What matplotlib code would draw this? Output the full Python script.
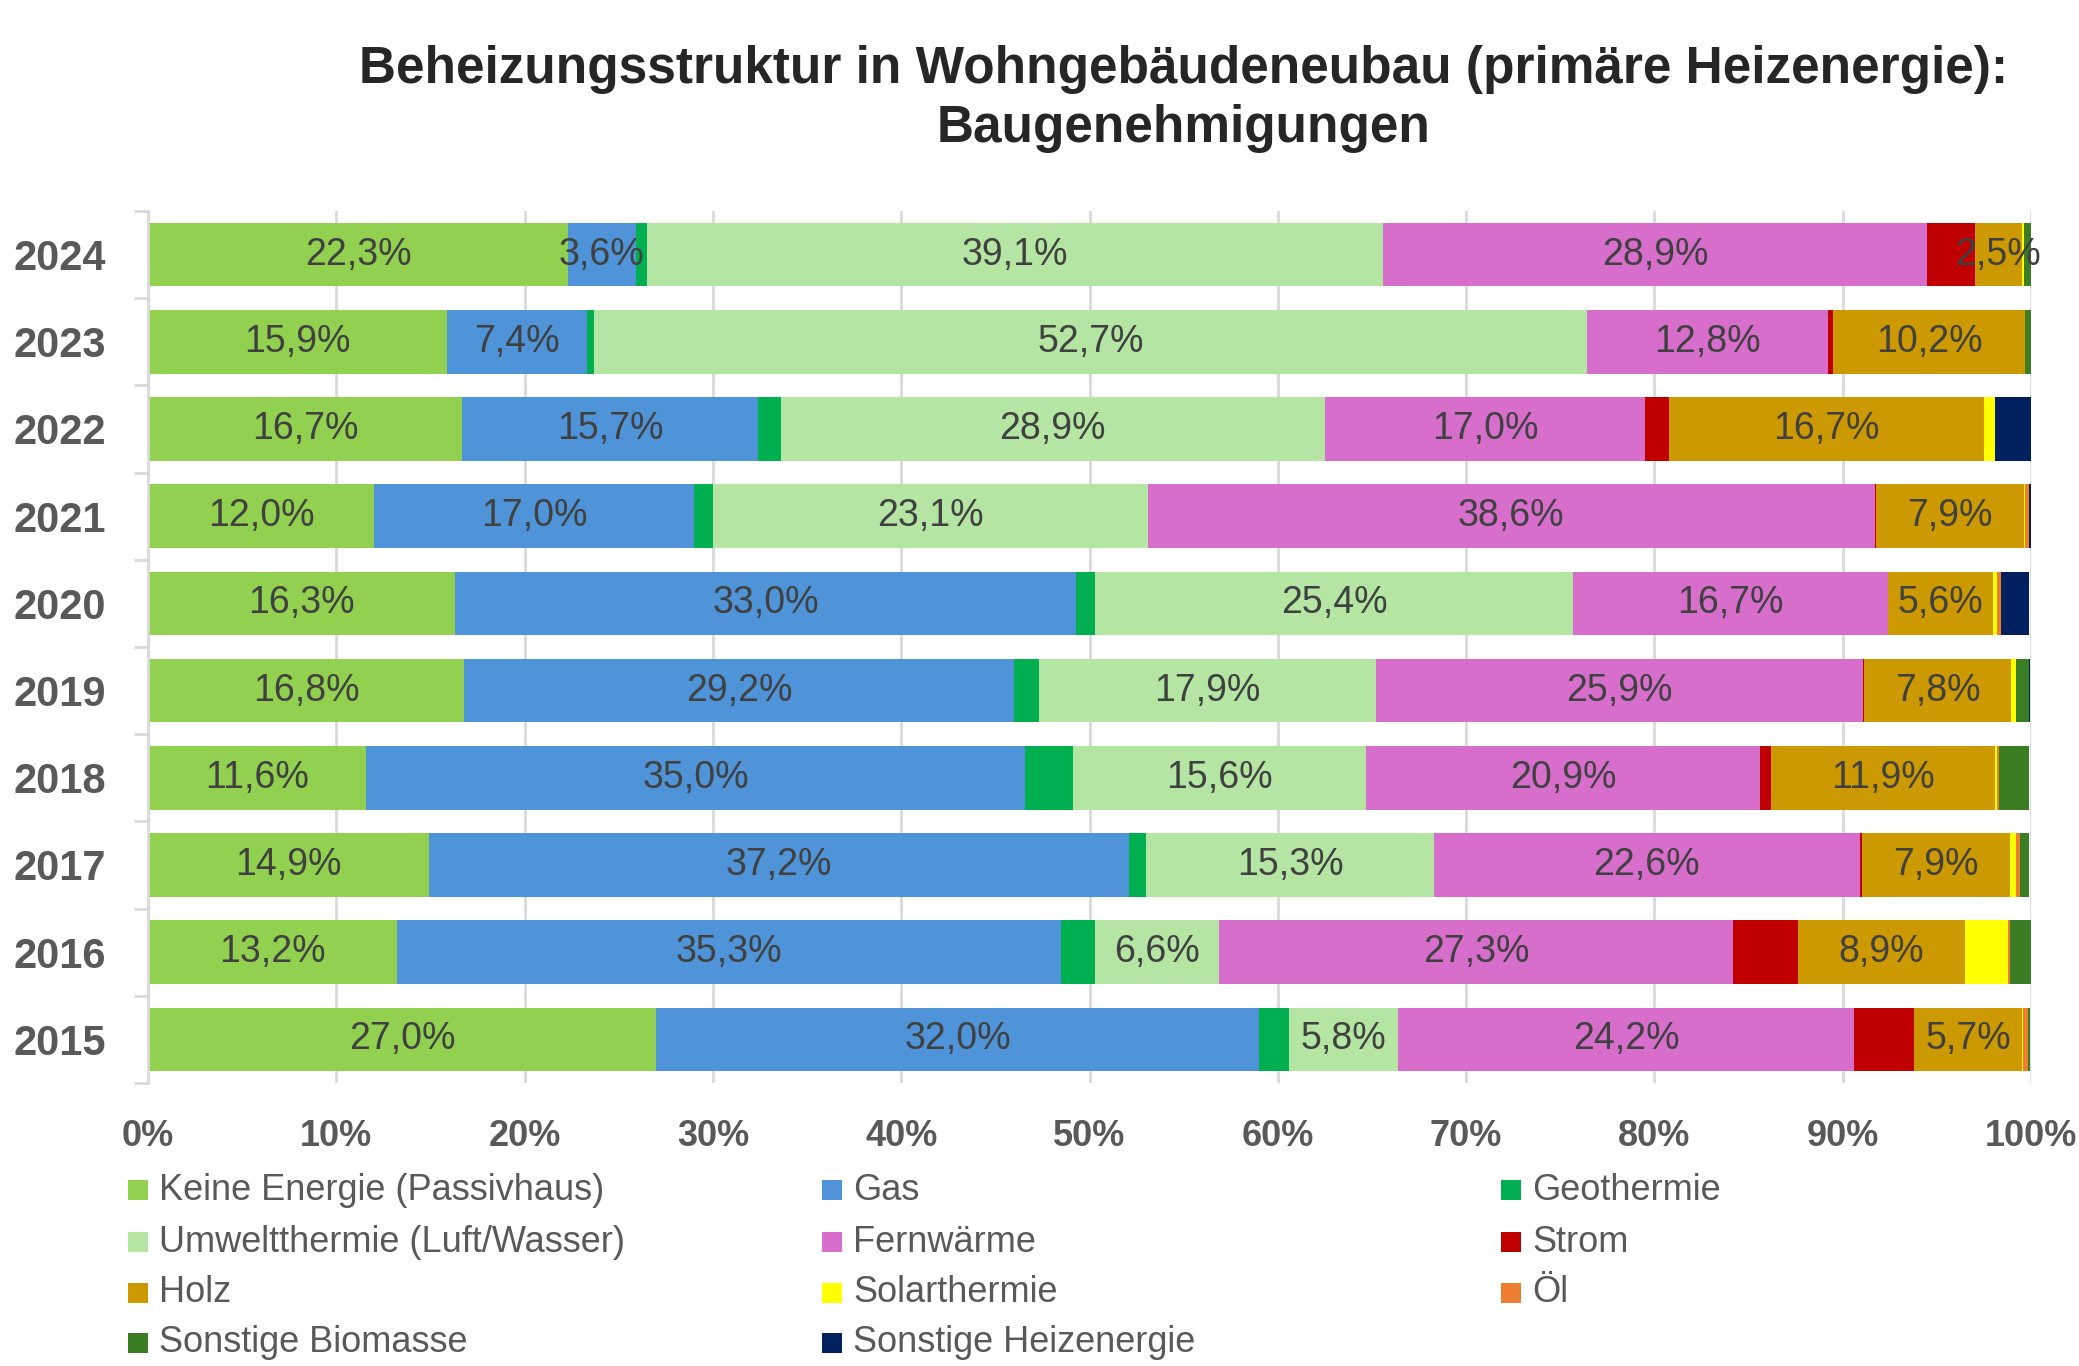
import matplotlib
matplotlib.use("Agg")
import matplotlib.pyplot as plt
from matplotlib.patches import Rectangle
import numpy as np

years = ["2015", "2016", "2017", "2018", "2019", "2020", "2021", "2022", "2023", "2024"]
series_names = ["Keine Energie (Passivhaus)", "Gas", "Geothermie",
                "Umweltthermie (Luft/Wasser)", "Fernwärme", "Strom", "Holz",
                "Solarthermie", "Öl", "Sonstige Biomasse", "Sonstige Heizenergie"]
colors = ["#92D050", "#4F94D8", "#00B050", "#B4E5A2", "#D86ECC", "#C00000",
          "#CC9900", "#FFFF00", "#ED7D31", "#3B7D23", "#002060"]

keine    = [27.0, 13.2, 14.9, 11.6, 16.8, 16.3, 12.0, 16.7, 15.9, 22.3]
gas      = [32.0, 35.3, 37.2, 35.0, 29.2, 33.0, 17.0, 15.7, 7.4, 3.6]
geo      = [1.6, 1.8, 0.9, 2.5, 1.3, 1.0, 1.0, 1.2, 0.4, 0.6]
umwelt   = [5.8, 6.6, 15.3, 15.6, 17.9, 25.4, 23.1, 28.9, 52.7, 39.1]
fern     = [24.2, 27.3, 22.6, 20.9, 25.9, 16.7, 38.6, 17.0, 12.8, 28.9]
strom    = [3.2, 3.4, 0.1, 0.6, 0.05, 0.0, 0.05, 1.3, 0.3, 2.5]
holz     = [5.7, 8.9, 7.9, 11.9, 7.8, 5.6, 7.9, 16.7, 10.2, 2.5]
solar    = [0.05, 2.3, 0.3, 0.1, 0.25, 0.2, 0.05, 0.6, 0.0, 0.15]
oel      = [0.3, 0.1, 0.2, 0.1, 0.0, 0.2, 0.2, 0.0, 0.0, 0.0]
biomasse = [0.1, 1.1, 0.5, 1.6, 0.7, 0.0, 0.0, 0.0, 0.3, 0.35]
sonstige = [0.0, 0.0, 0.0, 0.0, 0.05, 1.5, 0.1, 1.9, 0.0, 0.0]

values = [keine, gas, geo, umwelt, fern, strom, holz, solar, oel, biomasse, sonstige]
labelled = {0, 1, 3, 4, 6}

xticks = [0, 10, 20, 30, 40, 50, 60, 70, 80, 90, 100]
xticklabels = [f"{t}%" for t in xticks]

title = "Beheizungsstruktur in Wohngebäudeneubau (primäre Heizenergie):\nBaugenehmigungen"

FONT = "Liberation Sans"
plt.rcParams["font.family"] = [FONT, "DejaVu Sans"]

W, H = 2079, 1366
fig = plt.figure(figsize=(W / 100, H / 100), dpi=100)
ax = fig.add_axes([148 / W, 1 - 1083 / H, (2031 - 148) / W, (1083 - 211) / H])

y = np.arange(len(years))
left = np.zeros(len(years))
for i, (name, vals, col) in enumerate(zip(series_names, values, colors)):
    vals = np.array(vals, dtype=float)
    bars = ax.barh(y, vals, left=left, height=0.73, color=col, label=name, zorder=3)
    if i in labelled:
        lbls = [f"{v:.1f}%".replace(".", ",") for v in vals]
        ax.bar_label(bars, labels=lbls, label_type="center", fontsize=27,
                     color="#404040", zorder=4)
    left += vals

ax.set_xlim(0, 100)
ax.set_ylim(-0.5, len(years) - 0.5)
ax.set_xticks(xticks)
ax.set_xticklabels(xticklabels, fontsize=26, fontweight="bold", color="#595959")
ax.set_yticks(y)
ax.set_yticklabels(years, fontsize=30, fontweight="bold", color="#595959")
ax.set_yticks(np.arange(-0.5, len(years), 1.0), minor=True)
ax.tick_params(axis="y", which="major", length=0, pad=30)
ax.tick_params(axis="y", which="minor", length=10, width=2, color="#D9D9D9")
ax.tick_params(axis="x", which="major", length=0, pad=26)

ax.grid(axis="x", color="#D9D9D9", linewidth=2, zorder=0)
for s in ["top", "right", "bottom"]:
    ax.spines[s].set_visible(False)
ax.spines["left"].set_color("#D9D9D9")
ax.spines["left"].set_linewidth(2)
ax.spines["left"].set_zorder(5)

fig.text(881 / 1548, 1 - 99 / H, title, ha="center", va="center",
         fontsize=37, fontweight="bold", color="#262626", linespacing=1.25)

# legend (row-major, 3 columns)
col_x = [128, 822, 1501]
row_y = [1190, 1242, 1293, 1343]
for k, (name, col) in enumerate(zip(series_names, colors)):
    r, c = divmod(k, 3)
    x0 = col_x[c]
    yc = row_y[r]
    fig.add_artist(Rectangle((x0 / W, 1 - (yc + 10) / H), 20 / W, 20 / H,
                             transform=fig.transFigure, facecolor=col,
                             edgecolor="none"))
    fig.text((x0 + 31) / W, 1 - yc / H, name, ha="left", va="center",
             fontsize=26, color="#595959")

fig.savefig("out.png", dpi=100, facecolor="white")
